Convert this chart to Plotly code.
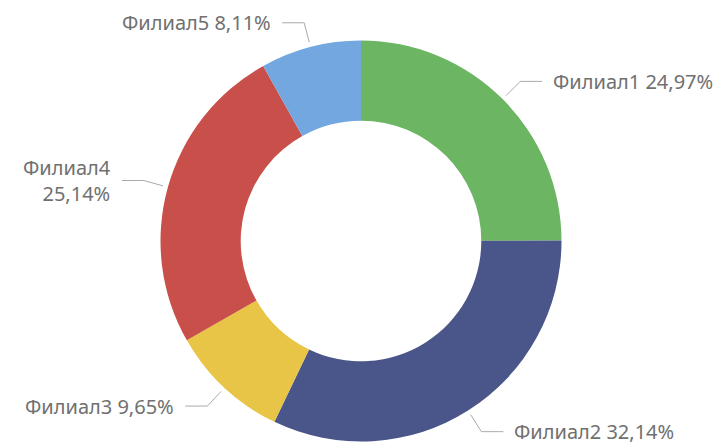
import math
import plotly.graph_objects as go

# ---- data ----
categories = ["Филиал1", "Филиал2", "Филиал3", "Филиал4", "Филиал5"]
values = [24.97, 32.14, 9.65, 25.14, 8.11]
label_text = ["Филиал1 24,97%", "Филиал2 32,14%", "Филиал3 9,65%",
              "Филиал4<br>25,14%", "Филиал5 8,11%"]
colors = ["#6cb563", "#4a5589", "#e8c547", "#c9504a", "#72a8df"]

W, H = 728, 443
PAGE_OFFSET = 8  # default body margin of the html page
CX, CY, R = 361 - PAGE_OFFSET, 241 - PAGE_OFFSET, 200.5
HOLE = 0.6

fig = go.Figure()
fig.add_trace(go.Pie(
    labels=categories, values=values, sort=False, direction="clockwise",
    rotation=0, hole=HOLE, textinfo="none", hoverinfo="label+percent",
    marker=dict(colors=colors, line=dict(width=0)),
    domain=dict(x=[(CX - R) / W, (CX + R) / W],
                y=[(H - CY - R) / H, (H - CY + R) / H]),
    showlegend=False,
))

# leader lines + labels, computed from slice mid-angles
total = sum(values)
cum = 0.0
annotations = []
for cat, v, txt in zip(categories, values, label_text):
    mid = (cum + v / 2) / total * 2 * math.pi
    cum += v
    s, c = math.sin(mid), math.cos(mid)
    x1, y1 = CX + (R + 5) * s, CY - (R + 5) * c
    x2, y2 = CX + (R + 25) * s, CY - (R + 25) * c
    sign = 1 if s >= 0 else -1
    x3 = x2 + sign * 22
    fig.add_trace(go.Scatter(
        x=[x1, x2, x3], y=[y1, y2, y2], mode="lines",
        line=dict(color="#aaaaaa", width=1), hoverinfo="skip",
        showlegend=False, xaxis="x", yaxis="y"))
    annotations.append(dict(
        x=x3 + sign * 9, y=y2, xref="x", yref="y", text=txt, showarrow=False,
        xanchor="left" if sign > 0 else "right", yanchor="middle",
        align="left" if sign > 0 else "right",
        font=dict(family="Noto Sans, sans-serif", size=20, color="#707070")))

fig.update_layout(
    width=W, height=H, margin=dict(l=0, r=0, t=0, b=0),
    paper_bgcolor="white", plot_bgcolor="rgba(0,0,0,0)",
    xaxis=dict(range=[0, W], visible=False, fixedrange=True),
    yaxis=dict(range=[H, 0], visible=False, fixedrange=True),
    annotations=annotations,
)

fig.write_html("out.html")
